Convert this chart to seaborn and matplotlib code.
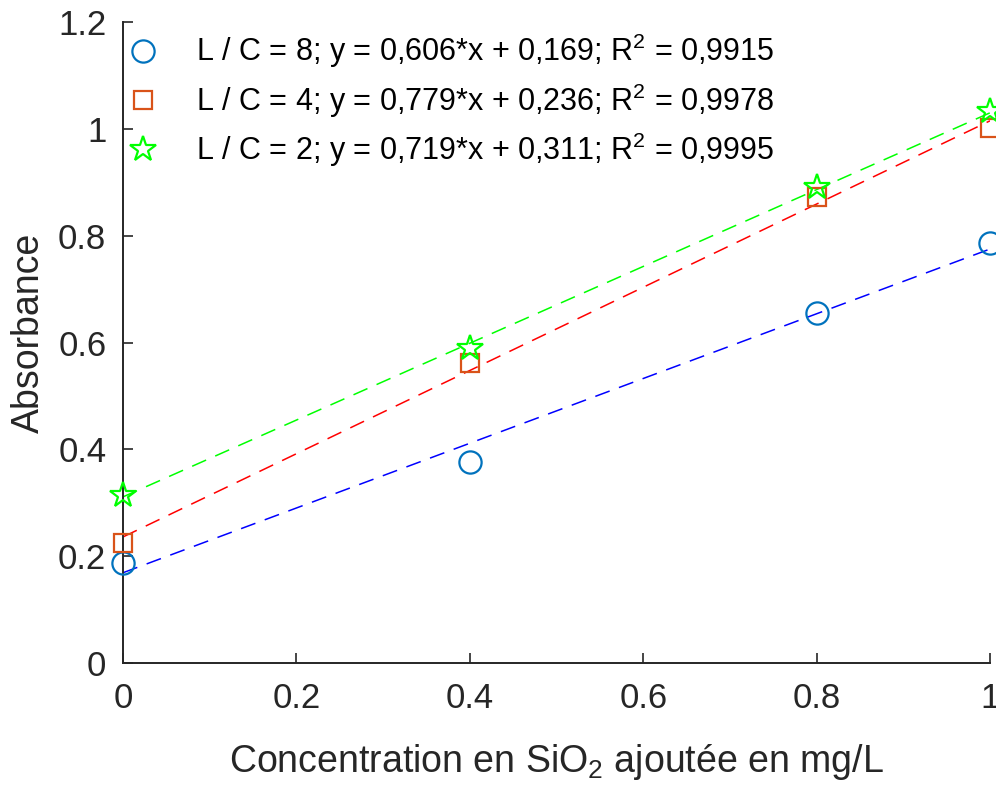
import numpy as np
import pandas as pd
import matplotlib
matplotlib.use('Agg')
import matplotlib.pyplot as plt
import seaborn as sns

# data
conc = [0.0, 0.4, 0.8, 1.0]
abs_lc8 = [0.187, 0.376, 0.655, 0.786]
abs_lc4 = [0.225, 0.562, 0.873, 1.002]
abs_lc2 = [0.315, 0.590, 0.891, 1.034]

ratios = [8, 4, 2]
slopes = [0.606, 0.779, 0.719]
intercepts = [0.169, 0.236, 0.311]
r2 = ['0,9915', '0,9978', '0,9995']

marker_colors = ['#0072BD', '#D95319', '#00FF00']
line_colors = ['#0000FF', '#FF0000', '#00FF00']
markers = ['o', 's', '*']
marker_sizes = [16, 13, 19]

sns.set_style('ticks')
plt.rcParams['font.family'] = ['Liberation Sans', 'DejaVu Sans']
plt.rcParams['mathtext.default'] = 'regular'

fig = plt.figure(figsize=(9.96, 7.91), dpi=100)
ax = fig.add_axes([0.1235, 0.1618, 0.8705, 0.8104])

series = [abs_lc8, abs_lc4, abs_lc2]
handles = []
for i, ys in enumerate(series):
    # fitted line from the reported equation
    xf = [0.0, 1.0]
    yf = [slopes[i] * x + intercepts[i] for x in xf]
    sns.lineplot(x=xf, y=yf, ax=ax, color=line_colors[i], lw=1.1,
                 linestyle=(0, (10, 6.5)), zorder=2)
    label = (f'L / C = {ratios[i]}; y = {str(slopes[i]).replace(".", ",")}*x + '
             f'{str(intercepts[i]).replace(".", ",")}; R$^{{2}}$ = {r2[i]}')
    h, = ax.plot(conc, ys, linestyle='none', marker=markers[i],
                 markersize=marker_sizes[i], markerfacecolor='none',
                 markeredgecolor=marker_colors[i], markeredgewidth=1.6,
                 clip_on=False, zorder=3, label=label)
    handles.append(h)

ax.set_xlim(0, 1)
ax.set_ylim(0, 1.2)
ax.set_xticks([0, 0.2, 0.4, 0.6, 0.8, 1])
ax.set_xticklabels(['0', '0.2', '0.4', '0.6', '0.8', '1'])
ax.set_yticks([0, 0.2, 0.4, 0.6, 0.8, 1, 1.2])
ax.set_yticklabels(['0', '0.2', '0.4', '0.6', '0.8', '1', '1.2'])
ax.tick_params(direction='in', length=7, width=1.2, labelsize=25,
               colors='#262626')
ax.tick_params(axis='x', pad=14)
ax.tick_params(axis='y', pad=12)
for s in ['top', 'right']:
    ax.spines[s].set_visible(False)
for s in ['left', 'bottom']:
    ax.spines[s].set_linewidth(1.4)
    ax.spines[s].set_color('#262626')

ax.set_xlabel('Concentration en SiO$_{2}$ ajoutée en mg/L', fontsize=27,
              color='#262626', labelpad=19)
ax.set_ylabel('Absorbance', fontsize=27, color='#262626', labelpad=8)
ax.yaxis.label.set_y(0.515)

leg = ax.legend(handles=handles, loc='upper left', bbox_to_anchor=(-0.016, 1.013),
                frameon=False, fontsize=22, handlelength=1.0,
                handletextpad=1.25, labelspacing=0.36, borderaxespad=0.2)
for t in leg.get_texts():
    t.set_color('black')

fig.savefig('out.png', dpi=100)
